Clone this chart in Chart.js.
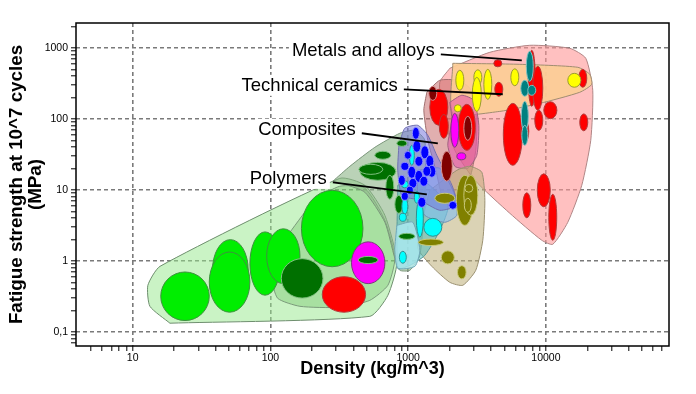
<!DOCTYPE html>
<html>
<head>
<meta charset="utf-8">
<script src="https://cdn.jsdelivr.net/npm/chart.js@4.4.1/dist/chart.umd.min.js"></script>
<style>
  html, body { margin: 0; padding: 0; background: #fff; }
  #wrap { width: 696px; height: 394px; }
</style>
</head>
<body>
<div id="wrap"><canvas id="chart" width="696" height="394"></canvas></div>
<script>
const FONT = '"Liberation Sans", Arial, sans-serif';

// axis limits (density kg/m^3, fatigue strength MPa)
const densityRange = [3.88, 78300];
const strengthRange = [0.0635, 2250];

// class envelopes, [density, strength] corners
const metalsEnv = [[2007,518],[3918,870],[7640,1092],[14910,990],[19480,716],[21890,254],[21170,50.1],[18220,11.65],[14420,3.51],[11220,1.72],[9333,1.96],[5472,4.70],[3050,13.7],[2183,36.2],[1756,132.6],[1698,329]];
const alloyBox = [[2110,609],[6466,589],[17040,535],[20830,426],[21530,308],[17620,238],[9030,166],[4628,128],[2110,120]];
const ceramicOuter = [[1367,238],[1698,351],[2295,351],[2806,271],[3151,133],[3097,36.2],[2806,14.6],[2371,7.64],[2007,5.89],[1756,8.42],[1589,18.95],[1390,50.1],[1300,133]];
const ceramicInner = [[2007,172],[2453,216],[2999,183],[3259,81.5],[3151,30.8],[2710,20.2],[2183,21.6],[1941,42.6],[2080,95.9]];
const foamOuter = [[18.65,0.133],[13.35,0.230],[12.9,0.455],[15.8,0.841],[319,14.6],[485,11.65],[678,4.40],[828,0.959],[713,0.329],[527,0.166]];
const foamInner = [[138.5,2.54],[210,7.16],[319,11.3],[485,10.6],[678,3.74],[801,1.09],[713,0.455],[527,0.279],[319,0.223],[164,0.230],[113,0.298],[102.6,0.570],[113,1.20]];
const polymerEnv = [[284,13.3],[378,21.6],[573,39.9],[871,63],[1119,69.3],[1321,50.1],[1321,7.16],[1216,1.20],[1029,0.740],[871,0.740],[801,1.09],[678,3.51],[485,9.29],[347.5,12.0]];
const khakiEnv = [[1436,9.91],[2259,18.95],[2806,21.6],[3428,17.8],[3606,7.16],[3483,1.96],[3097,0.740],[2495,0.455],[2007,0.501],[1486,0.841],[1175,1.51],[1256,3.51]];
const tealEnv = [[841,11.65],[1216,14.6],[1941,6.09],[1698,2.70],[1321,1.20],[1029,0.869],[841,0.789]];
const lightCyanEnv = [[828,3.18],[1081,3.51],[1216,1.415],[1119,0.841],[841,0.789],[801,1.415]];
const lightBlueEnv = [[1175,18.95],[1698,20.2],[2183,8.42],[2256,4.40],[1845,3.51],[1321,4.40],[1175,8.42]];
const lavenderEnv = [[856,42.6],[946,74.0],[1175,81.5],[1390,58.9],[1614,30.8],[2080,11.65],[2259,6.09],[1698,5.18],[1216,7.16],[900,8.42],[841,18.95]];

// material bubbles: [kind, densityLo, densityHi, strengthLo, strengthHi]
const foams = [
  ['green', 16, 36, 0.145, 0.70],
  ['green', 38, 69, 0.28, 2.0],
  ['green', 36, 71, 0.19, 1.34],
  ['green', 71, 118, 0.33, 2.57],
  ['green', 94, 164, 0.48, 2.84],
  ['green', 168, 470, 0.83, 9.9],
  ['dkgreen', 120, 241, 0.30, 1.08],
  ['red', 238, 491, 0.19, 0.60],
  ['magenta', 388, 678, 0.48, 1.86],
  ['dkgreen', 434, 605, 0.92, 1.16]
];
const polymers = [
  ['dkgreen', 573, 749, 27.1, 35.1],
  ['dkgreen', 446, 814, 13.7, 24.5],
  ['dkgreen', 439, 655, 16.6, 23.0],
  ['dkgreen', 689, 787, 7.4, 16.1],
  ['dkgreen', 828, 979, 41.3, 50.1],
  ['dkgreen', 801, 915, 4.7, 8.4],
  ['dkgreen', 856, 1119, 2.02, 2.45]
];
const others = [
  ['olive', 1562, 2183, 6.5, 9.0],
  ['olive', 2238, 2972, 3.18, 16.1],
  ['olive', 2537, 3205, 4.4, 16.1],
  ['olive', 2579, 2948, 9.3, 12.0],
  ['olive', 2558, 2874, 4.85, 7.64],
  ['olive', 1186, 1801, 1.65, 2.04],
  ['olive', 1741, 2164, 0.91, 1.39],
  ['olive', 2283, 2636, 0.56, 0.86]
];
const composites = [
  ['cyan', 1020, 1109, 22.3, 42.6],
  ['cyan', 893, 1003, 10.7, 13.5],
  ['cyan', 900, 995, 4.55, 7.64],
  ['cyan', 863, 970, 3.62, 4.70],
  ['cyan', 1147, 1289, 2.16, 7.40],
  ['cyan', 1300, 1756, 2.23, 3.99],
  ['cyan', 863, 970, 0.93, 1.37],
  ['cyan', 1109, 1206, 6.5, 9.6],
  ['blue', 1073, 1206, 51.8, 76.4],
  ['blue', 1082, 1236, 34.0, 50.1],
  ['blue', 1236, 1413, 27.5, 41.9],
  ['blue', 1345, 1537, 20.9, 30.8],
  ['blue', 1390, 1589, 15.1, 22.3],
  ['blue', 885, 1012, 18.9, 24.5],
  ['blue', 995, 1137, 14.6, 21.6],
  ['blue', 1119, 1279, 21.6, 29.8],
  ['blue', 1119, 1279, 12.8, 18.9],
  ['blue', 1216, 1390, 11.3, 15.6],
  ['blue', 849, 954, 11.6, 16.1],
  ['blue', 893, 1003, 7.16, 9.29],
  ['blue', 1012, 1157, 10.6, 14.6],
  ['blue', 1175, 1345, 5.7, 7.89],
  ['blue', 1974, 2256, 5.35, 6.93],
  ['blue', 1279, 1461, 15.6, 21.6],
  ['blue', 938, 1055, 27.1, 35.1],
  ['blue', 970, 1091, 8.7, 11.3]
];
const metals = [
  ['red', 4188, 4786, 543, 682],
  ['red', 4258, 4867, 209, 329],
  ['red', 4909, 6742, 22.3, 166],
  ['red', 6574, 7513, 47.0, 95.7],
  ['red', 7451, 8375, 151, 929],
  ['red', 8035, 9495, 133, 552],
  ['red', 8307, 9495, 69.2, 133],
  ['red', 9656, 12020, 101, 175],
  ['red', 17330, 19810, 280, 501],
  ['red', 17620, 20140, 68.2, 118],
  ['red', 8662, 10760, 5.8, 16.9],
  ['red', 6799, 7770, 4.06, 9.13],
  ['red', 10500, 11990, 1.96, 8.70],
  ['teal', 7207, 8102, 340, 899],
  ['teal', 6574, 7513, 209, 351],
  ['teal', 7390, 8447, 216, 298],
  ['teal', 6630, 7451, 67.1, 177],
  ['teal', 6686, 7390, 42.6, 81.5],
  ['yellow', 2219, 2537, 254, 486],
  ['yellow', 2999, 3428, 303, 493],
  ['yellow', 2924, 3399, 128, 386],
  ['yellow', 3544, 4050, 189, 501],
  ['yellow', 5564, 6360, 294, 509],
  ['yellow', 14420, 17950, 280, 440]
];
const ceramics = [
  ['red', 1436, 1941, 81.5, 262],
  ['dkred', 1413, 1614, 183, 289],
  ['red', 1684, 1957, 53.5, 116],
  ['red', 2314, 3074, 36.2, 161],
  ['dkred', 2537, 2899, 50.1, 109],
  ['magenta', 2041, 2333, 39.9, 120],
  ['magenta', 2259, 2623, 26.6, 33.4],
  ['yellow', 2164, 2432, 126, 159],
  ['dkred', 1741, 2093, 13.3, 35.1]
];

// class labels with their leader lines (start, end in data units)
const labelNames = ['Metals and alloys', 'Technical ceramics', 'Composites', 'Polymers'];
const labelFrom = [[1727, 815], [931, 262], [461, 63], [284, 12.8]];
const labelTo = [[6683, 671], [4863, 223], [1643, 45.5], [1367, 8.7]];

const kindColours = {
  green: ['#00ee00', '#3f8f3f'],
  dkgreen: ['#007000', '#80c080'],
  red: ['#ff0000', '#b23a3a'],
  magenta: ['#ff00ff', '#7a3a7a'],
  cyan: ['#00ffff', '#2f8f8f'],
  blue: ['#0000ff', '#8c8cff'],
  olive: ['#808000', '#c8c878'],
  teal: ['#008080', '#80c0c0'],
  yellow: ['#ffff00', '#9a9a30'],
  dkred: ['#800000', '#d89090']
};

const envelopes = [
  [metalsEnv, 'rgba(255,150,150,0.6)', '#b08585'],
  [ceramicOuter, 'rgba(195,95,95,0.5)', '#a07070'],
  [alloyBox, 'rgba(252,205,150,0.92)', '#a08c70'],
  [ceramicInner, 'rgba(230,90,170,0.6)', '#a06080'],
  [foamOuter, 'rgba(150,232,140,0.5)', '#6e8e6e'],
  [foamInner, 'rgba(90,180,80,0.3)', '#7a9a7a'],
  [polymerEnv, 'rgba(140,180,135,0.6)', '#7a957a'],
  [khakiEnv, 'rgba(190,175,120,0.55)', '#9a9070'],
  [tealEnv, 'rgba(80,190,190,0.55)', '#5a9a9a'],
  [lightCyanEnv, 'rgba(180,240,250,0.7)', '#70a8b8'],
  [lightBlueEnv, 'rgba(130,190,240,0.6)', '#7090b8'],
  [lavenderEnv, 'rgba(120,120,220,0.55)', '#7070b0']
];
const bubbleOrder = [foams, polymers, others, composites, metals, ceramics];

const isDecade = v => Math.abs(Math.log10(v) - Math.round(Math.log10(v))) < 1e-6;
const keepWholeTicks = axis => {
  axis.ticks = axis.ticks.filter(t => {
    const m = t.value / Math.pow(10, Math.floor(Math.log10(t.value) + 1e-9));
    return Math.abs(m - Math.round(m)) < 1e-6;
  });
};

const datasets = envelopes.map(([pts, fill, line], i) => ({
  data: pts.concat([pts[0]]).map(([x, y]) => ({ x, y })),
  showLine: true,
  fill: 'shape',
  backgroundColor: fill,
  borderColor: line,
  borderWidth: 1,
  pointRadius: 0,
  tension: 0.2,
  order: envelopes.length - i
}));

const bubblePlugin = {
  id: 'bubbles',
  afterDatasetsDraw(chart) {
    const { ctx, chartArea: a, scales: { x, y } } = chart;
    ctx.save();
    ctx.beginPath();
    ctx.rect(a.left, a.top, a.right - a.left, a.bottom - a.top);
    ctx.clip();
    bubbleOrder.forEach(group => {
      group.forEach(([kind, x0, x1, y0, y1]) => {
        const px0 = x.getPixelForValue(x0), px1 = x.getPixelForValue(x1);
        const py0 = y.getPixelForValue(y0), py1 = y.getPixelForValue(y1);
        ctx.beginPath();
        ctx.ellipse((px0 + px1) / 2, (py0 + py1) / 2, Math.abs(px1 - px0) / 2, Math.abs(py1 - py0) / 2, 0, 0, Math.PI * 2);
        ctx.fillStyle = kindColours[kind][0];
        ctx.fill();
        ctx.lineWidth = 1;
        ctx.strokeStyle = kindColours[kind][1];
        ctx.stroke();
      });
    });
    ctx.restore();

    // labels
    ctx.save();
    ctx.font = '18.5px ' + FONT;
    labelNames.forEach((name, i) => {
      const sx = x.getPixelForValue(labelFrom[i][0]), sy = y.getPixelForValue(labelFrom[i][1]);
      const ex = x.getPixelForValue(labelTo[i][0]), ey = y.getPixelForValue(labelTo[i][1]);
      const w = ctx.measureText(name).width;
      const tx = sx - 6, ty = sy + 1.5;
      ctx.fillStyle = '#fff';
      ctx.fillRect(tx - w - 3, ty - 16, w + 6, 21);
      ctx.fillStyle = '#000';
      ctx.textAlign = 'right';
      ctx.textBaseline = 'alphabetic';
      ctx.fillText(name, tx, ty);
      ctx.beginPath();
      ctx.moveTo(sx, sy);
      ctx.lineTo(ex, ey);
      ctx.lineWidth = 1.8;
      ctx.strokeStyle = '#000';
      ctx.stroke();
    });
    ctx.restore();
  },
  afterDraw(chart) {
    const { ctx, chartArea: a } = chart;
    ctx.save();
    ctx.strokeStyle = '#000';
    ctx.lineWidth = 1.5;
    ctx.strokeRect(a.left, a.top, a.right - a.left, a.bottom - a.top);
    ctx.restore();
  }
};

const gridOpts = {
  color: c => (c.tick && isDecade(c.tick.value) ? '#7a7a7a' : 'rgba(0,0,0,0)'),
  lineWidth: 1.6,
  tickColor: '#000',
  tickLength: 5,
  tickWidth: 1
};

new Chart(document.getElementById('chart'), {
  type: 'scatter',
  data: { datasets },
  options: {
    responsive: false,
    devicePixelRatio: 1,
    animation: false,
    events: [],
    layout: { padding: { top: 23, right: 27, left: 0, bottom: 0 } },
    plugins: { legend: { display: false }, tooltip: { enabled: false } },
    scales: {
      x: {
        type: 'logarithmic',
        position: 'bottom',
        min: densityRange[0],
        max: densityRange[1],
        afterBuildTicks: keepWholeTicks,
        afterFit: s => { s.height = 48; },
        grid: gridOpts,
        border: { display: false, dash: [4, 3] },
        ticks: {
          autoSkip: false,
          maxRotation: 0,
          padding: 1,
          color: '#000',
          font: { family: FONT, size: 10.5 },
          callback: v => (isDecade(v) ? String(v) : '')
        },
        title: {
          display: true,
          text: 'Density (kg/m^3)',
          color: '#000',
          font: { family: FONT, size: 18, weight: 'bold', lineHeight: 1.2 },
          padding: { top: 0, bottom: 14 }
        }
      },
      y: {
        type: 'logarithmic',
        position: 'left',
        min: strengthRange[0],
        max: strengthRange[1],
        afterBuildTicks: keepWholeTicks,
        afterFit: s => { s.width = 76; },
        grid: gridOpts,
        border: { display: false, dash: [4, 3] },
        ticks: {
          autoSkip: false,
          padding: 3,
          color: '#000',
          font: { family: FONT, size: 10.5 },
          callback: v => (isDecade(v) ? String(v).replace('.', ',') : '')
        },
        title: {
          display: true,
          text: ['Fatigue strength at 10^7 cycles', '(MPa)'],
          color: '#000',
          font: { family: FONT, size: 18.8, weight: 'bold', lineHeight: 1.0 },
          padding: { top: 7.5, bottom: 0 }
        }
      }
    }
  },
  plugins: [bubblePlugin]
});
</script>
</body>
</html>
